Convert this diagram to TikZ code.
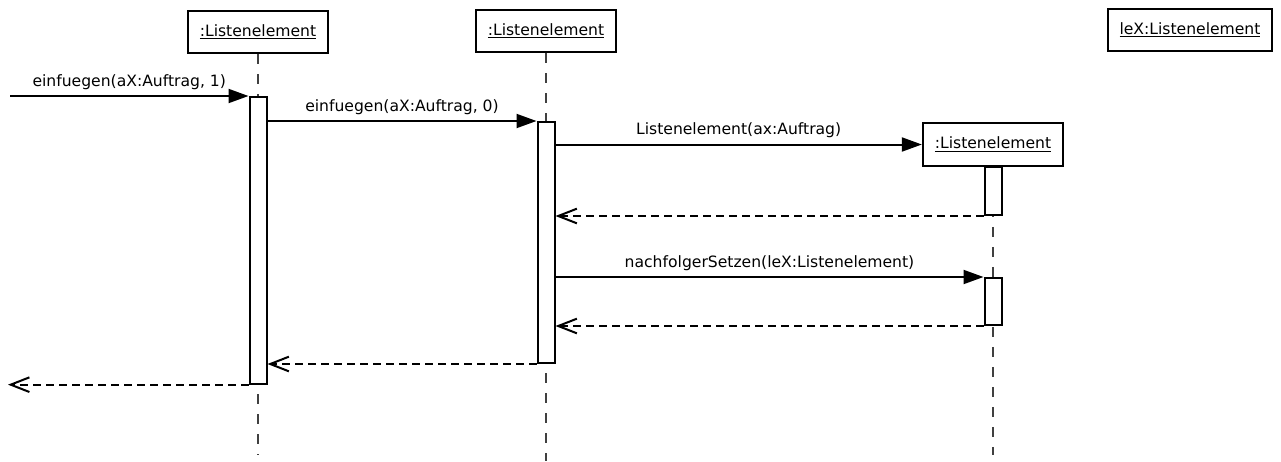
\documentclass[tikz,border=0pt]{standalone}
\usepackage{fontspec}
\setmainfont{DejaVu Sans}
\usetikzlibrary{positioning, arrows.meta}
\usepackage{xcolor}

\begin{document}
\begin{tikzpicture}[x=0.75pt, y=-0.75pt, font=\fontsize{11.7pt}{14pt}\selectfont]
\tikzstyle{object} = [rectangle, draw, line width=1.5pt, fill=white,
    inner xsep=9pt, minimum height=32pt, text centered]
\tikzstyle{bar} = [rectangle, draw, line width=1.5pt, fill=white,
    inner sep=0pt, minimum width=12.75pt, anchor=north]
\tikzstyle{lifeline} = [draw, black!75, line width=0.9pt, dash pattern=on 7.5pt off 7.5pt]
\tikzstyle{line} = [draw, line width=1.5pt, -{Triangle[length=15pt, width=10.5pt]}]
\tikzstyle{reply} = [draw, line width=1.5pt, dash pattern=on 6pt off 3.75pt,
    -{Straight Barb[length=14pt, width=11pt, line width=1.5pt]}]
\tikzstyle{label} = [midway, above, inner sep=4pt]

\useasboundingbox (0,0) rectangle (1281,461);

% objects
\node (obj1) [object] at (258,32) {\underline{:Listenelement}};
\node (obj2) [object] at (546,31) {\underline{:Listenelement}};
\node (objX) [object] at (1190,30) {\underline{leX:Listenelement}};
\node (objNew) [object] at (993,144.5) {\underline{:Listenelement}};

\coordinate (end1) at (258,455);
\coordinate (end2) at (546,461);
\coordinate (endNew) at (993,455);
\coordinate (start) at (10,96);
\coordinate (stop) at (8,383);

% lifelines
\path[lifeline] (obj1.south) -- (end1);
\path[lifeline] (obj2.south) -- (end2);
\path[lifeline] (objNew.south) -- (endNew);

% activations
\node (act1) [bar, minimum height=215pt] at (258,96) {};
\node (act2) [bar, minimum height=180.75pt] at (546,121) {};
\node (act3) [bar, minimum height=36pt] at (993,166) {};
\node (act4) [bar, minimum height=35.25pt] at (993,277) {};

% messages
\path[line] (start) -- node[label] {einfuegen(aX:Auftrag, 1)} (act1.north west);
\path[line] (act1.east |- act2.north) -- node[label] {einfuegen(aX:Auftrag, 0)} (act2.north west);
\path[line] (objNew.west -| act2.east) -- node[label] {Listenelement(ax:Auftrag)} (objNew.west);
\path[reply] (act3.south west) -- (act3.south west -| act2.east);
\path[line] (act2.east |- act4.north) -- node[label] {nachfolgerSetzen(leX:Listenelement)} (act4.north west);
\path[reply] (act4.south west) -- (act4.south west -| act2.east);
\path[reply] (act2.south west) -- (act2.south west -| act1.east);
\path[reply] (act1.south west) -- (act1.south west -| stop);
\end{tikzpicture}
\end{document}
